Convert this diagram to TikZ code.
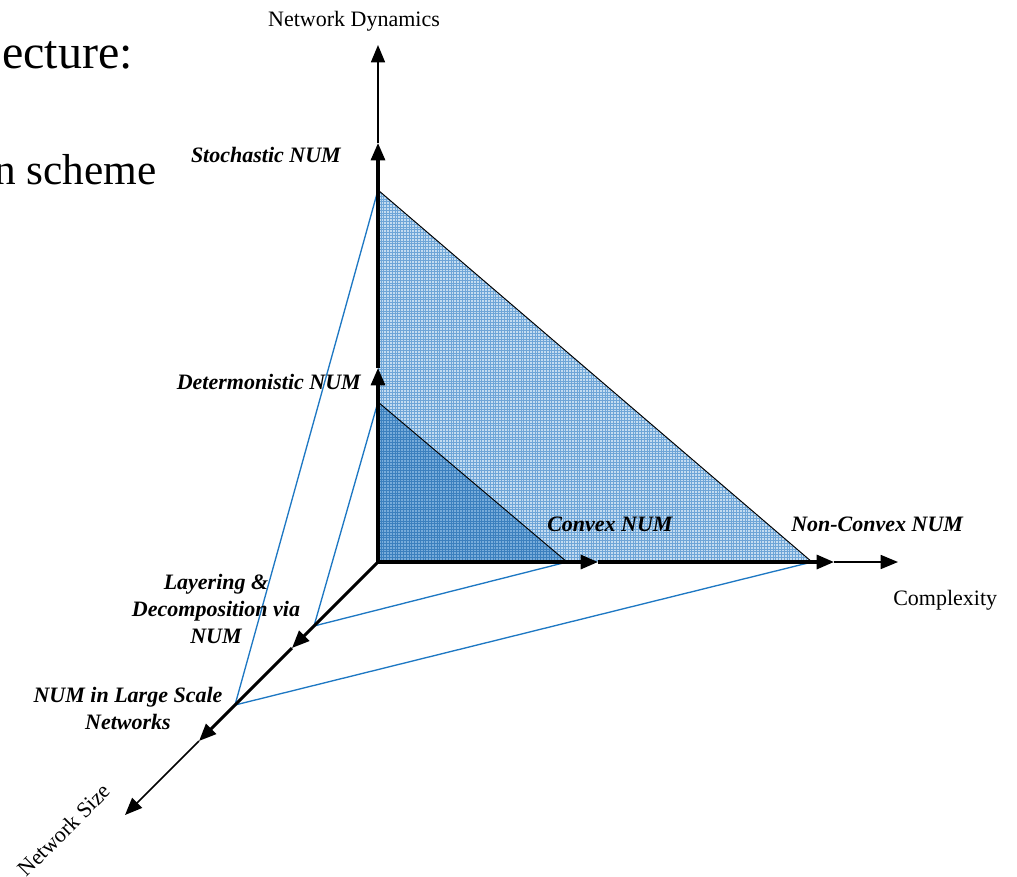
\documentclass[tikz,border=0pt]{standalone}
\usepackage{fontspec}
\setmainfont{Liberation Serif}
\usetikzlibrary{arrows.meta}
\definecolor{edgeblue}{RGB}{30,120,195}
\definecolor{lightfill}{RGB}{196,220,240}
\definecolor{lightgrid}{RGB}{110,165,215}
\definecolor{darkfill}{RGB}{120,172,218}
\definecolor{darkgrid}{RGB}{60,128,190}
\tikzset{
  tip/.style={-{Triangle[length=13pt,width=10.5pt]}},
  axisthick/.style={tip, line width=2.3pt},
  axisthin/.style={tip, line width=1.2pt},
  projline/.style={edgeblue, line width=1pt},
  hypline/.style={black, line width=0.7pt},
  axislabel/.style={font=\fontsize{16.5pt}{19pt}\selectfont, inner sep=0pt},
  numlabel/.style={font=\fontsize{16.5pt}{20pt}\selectfont\bfseries\itshape, inner sep=0pt},
  titletext/.style={font=\fontsize{36pt}{40pt}\selectfont, inner sep=0pt},
  bullettext/.style={font=\fontsize{32.5pt}{38pt}\selectfont, inner sep=0pt}
}
\begin{document}
\begin{tikzpicture}[x=0.75pt,y=-0.75pt]
\useasboundingbox (0,0) rectangle (1017,876);

% points on the three axes
\coordinate (O) at (378,562);
\coordinate (vDet) at (378,368);
\coordinate (vSto) at (378,143);
\coordinate (vTop) at (378,45);
\coordinate (hCvx) at (598,562);
\coordinate (hNcv) at (834,562);
\coordinate (hEnd) at (898,562);
\coordinate (dLay) at (292,648);
\coordinate (dLrg) at (199,741);
\coordinate (dEnd) at (125,815);

% corners of the two regions
\coordinate (bigTop) at (378,190);
\coordinate (bigRight) at (812,562);
\coordinate (smTop) at (378,402);
\coordinate (smRight) at (567,562);
\coordinate (pLay) at (314,626);
\coordinate (pLrg) at (235,705);

% cut-off slide text
\node[titletext, anchor=base east] (slideA) at (133,68) {ecture:};
\node[bullettext, anchor=base east] (slideB) at (157,184) {n scheme};

% large shaded triangle with fine grid
\fill[lightfill] (bigTop) -- (O) -- (bigRight) -- cycle;
\begin{scope}
  \clip (bigTop) -- (O) -- (bigRight) -- cycle;
  \draw[lightgrid, line width=0.35pt, step=2.1pt] (370,180) grid (820,570);
\end{scope}

% small shaded triangle with fine grid
\fill[darkfill] (smTop) -- (O) -- (smRight) -- cycle;
\begin{scope}
  \clip (smTop) -- (O) -- (smRight) -- cycle;
  \draw[darkgrid, line width=0.4pt, step=2.1pt] (370,395) grid (575,570);
\end{scope}

\draw[hypline] (bigTop) -- (bigRight);
\draw[hypline] (smTop) -- (smRight);

% projection lines
\draw[projline] (bigTop) -- (pLrg) -- (bigRight);
\draw[projline] (smTop) -- (pLay) -- (smRight);

% vertical axis
\draw[axisthick] (O) -- (vDet);
\draw[axisthick] (vDet) -- (vSto);
\draw[axisthin] (vSto) -- (vTop);

% horizontal axis
\draw[axisthick] (O) -- (hCvx);
\draw[axisthick] (hCvx) -- (hNcv);
\draw[axisthin] (hNcv) -- (hEnd);

% diagonal axis
\draw[axisthick] (O) -- (dLay);
\draw[axisthick] (dLay) -- (dLrg);
\draw[axisthin] (dLrg) -- (dEnd);

% axis titles
\node[axislabel, anchor=base] (tDyn) at (354,26) {Network Dynamics};
\node[axislabel, anchor=base west] (tCpx) at (893,605) {Complexity};
\node[axislabel, rotate=45] (tSize) at (64,830) {Network Size};

% level labels
\node[numlabel, anchor=base east] (lSto) at (341,162) {Stochastic NUM};
\node[numlabel, anchor=base east] (lDet) at (361,389) {Determonistic NUM};
\node[numlabel, anchor=base west] (lCvx) at (547,531) {Convex NUM};
\node[numlabel, anchor=base west] (lNcv) at (791,531) {Non-Convex NUM};
\node[numlabel, align=center, anchor=base] (lLay) at (216,643) {Layering \&\\Decomposition via\\NUM};
\node[numlabel, align=center, anchor=base] (lLrg) at (128,729) {NUM in Large Scale\\Networks};
\end{tikzpicture}
\end{document}
